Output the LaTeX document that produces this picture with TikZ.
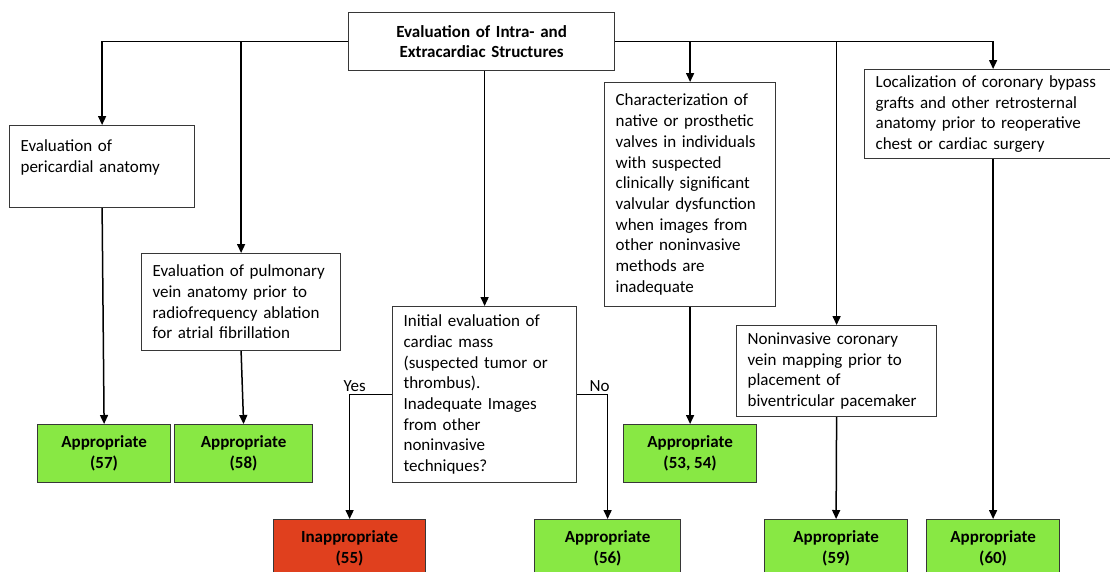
\documentclass[tikz,border=0pt]{standalone}
\usepackage{fontspec}
\setmainfont{Carlito}
\usepackage{xcolor}
\usetikzlibrary{arrows.meta}
\definecolor{boxgreen}{RGB}{136,232,68}
\definecolor{boxred}{RGB}{224,64,30}
\definecolor{boxline}{RGB}{55,55,55}

\begin{document}
\begin{tikzpicture}[x=1pt,y=-1pt,
    every node/.style={font=\fontsize{17}{20.7}\selectfont},
    textbox/.style={draw=boxline,line width=1.2pt,anchor=north west,
                    inner xsep=11pt,inner ysep=0pt,align=left},
    result/.style={draw=boxline,line width=1.2pt,anchor=north west,inner sep=0pt,
                   minimum height=58pt,align=center,
                   font=\fontsize{17}{20.7}\selectfont\bfseries},
    arr/.style={-{Triangle[length=9pt,width=8pt]},line width=1.5pt}]
  \useasboundingbox (0,0) rectangle (1110,571);
  % question boxes
  \node[textbox,align=center,text width=244pt,minimum height=58pt,
        font=\fontsize{17}{20.7}\selectfont\bfseries] (top) at (348,12)
       {Evaluation of Intra- and\\Extracardiac Structures};
  \node[textbox,text width=163pt,minimum height=82pt] (peri) at (9,125)
       {Evaluation of\\pericardial anatomy\\\mbox{}};
  \node[textbox,text width=177pt,minimum height=97pt] (pulm) at (141,253)
       {Evaluation of pulmonary\\vein anatomy prior to\\radiofrequency ablation\\for atrial fibrillation};
  \node[textbox,text width=162pt,minimum height=176pt] (mass) at (392,306)
       {Initial evaluation of\\cardiac mass\\(suspected tumor or\\thrombus).\\Inadequate Images\\from other\\noninvasive\\techniques?};
  \node[textbox,text width=149pt,minimum height=224pt] (valve) at (604,82)
       {Characterization of\\native or prosthetic\\valves in individuals\\with suspected\\clinically significant\\valvular dysfunction\\when images from\\other noninvasive\\methods are\\inadequate};
  \node[textbox,text width=178pt,minimum height=91pt] (cvein) at (736,325)
       {Noninvasive coronary\\vein mapping prior to\\placement of\\biventricular pacemaker};
  \node[textbox,text width=230pt,minimum height=89pt] (graft) at (864,69)
       {Localization of coronary bypass\\grafts and other retrosternal\\anatomy prior to reoperative\\chest or cardiac surgery};
  % ratings
  \node[result,fill=boxgreen,minimum width=133pt] (g57) at (37,424) {Appropriate\\(57)};
  \node[result,fill=boxgreen,minimum width=138pt] (g58) at (174,424) {Appropriate\\(58)};
  \node[result,fill=boxgreen,minimum width=133pt] (g5354) at (623,424) {Appropriate\\(53, 54)};
  \node[result,fill=boxred,minimum width=152pt] (bad) at (273,519) {Inappropriate\\(55)};
  \node[result,fill=boxgreen,minimum width=146pt] (g56) at (534,519) {Appropriate\\(56)};
  \node[result,fill=boxgreen,minimum width=143pt] (g59) at (764,519) {Appropriate\\(59)};
  \node[result,fill=boxgreen,minimum width=133pt] (g60) at (926,519) {Appropriate\\(60)};
  % connectors
  \draw[arr] (top.west) -| (peri.north);
  \draw[arr] (top.west) -| (pulm.north);
  \draw[arr] (top.south -| mass.north) -- (mass.north);
  \draw[arr] (top.east) -| (valve.north);
  \draw[arr] (top.east) -| (cvein.north);
  \draw[arr] (top.east) -| (graft.north -| g60.north);
  \draw[arr] (peri.south) -- (g57.north);
  \draw[arr] (pulm.south) -- (g58.north);
  \draw[arr] (valve.south) -- (g5354.north);
  \draw[arr] (cvein.south) -- (g59.north);
  \draw[arr] (graft.south -| g60.north) -- (g60.north);
  \draw[arr] (mass.west) -| (bad.north)
       node[pos=0.5,above,xshift=5pt,inner sep=2pt] {Yes};
  \draw[arr] (mass.east) -| (g56.north)
       node[pos=0.5,above,xshift=-8pt,inner sep=2pt] {No};
\end{tikzpicture}
\end{document}
